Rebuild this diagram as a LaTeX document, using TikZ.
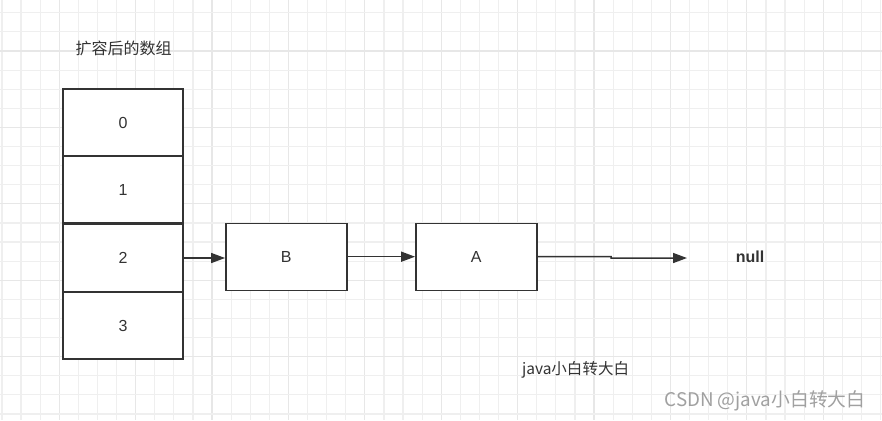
\documentclass[tikz,border=0pt]{standalone}
\usepackage{fontspec}
\setmainfont{Liberation Sans}
\newfontfamily\cjk{Noto Sans CJK SC}
\usetikzlibrary{arrows.meta}
\definecolor{gridminor}{HTML}{EFEFEF}
\definecolor{gridmajor}{HTML}{E7E7E7}
\definecolor{stroke}{HTML}{333333}
\definecolor{txt}{HTML}{333333}
\definecolor{wm}{HTML}{A0A0A0}
\tikzset{
  cell/.style={draw=stroke, line width=1.4pt, fill=white, minimum width=120pt, inner sep=0pt, font=\fontsize{16}{18}\selectfont, text=txt},
  link/.style={draw=stroke, line width=1.5pt, -{Triangle[length=14pt,width=10pt]}},
  lbl/.style={inner sep=0pt, text=txt},
}
\begin{document}
\begin{tikzpicture}[x=1pt,y=-1pt]
\useasboundingbox (0,0) rectangle (882,420);
\fill[white] (0,0) rectangle (882,420);
% grid
\foreach \i in {0,...,46}{
  \pgfmathsetmacro{\gx}{1.9+\i*19.1}
  \pgfmathtruncatemacro{\m}{mod(\i,4)}
  \ifnum\m=3 \draw[gridmajor, line width=1.2pt] (\gx,0) -- (\gx,420);
  \else \draw[gridminor, line width=1.2pt] (\gx,0) -- (\gx,420); \fi
}
\foreach \j in {0,...,22}{
  \pgfmathsetmacro{\gy}{12.8+\j*19.1}
  \pgfmathtruncatemacro{\m}{mod(\j,4)}
  \ifnum\m=2 \draw[gridmajor, line width=1.2pt] (0,\gy) -- (882,\gy);
  \else \draw[gridminor, line width=1.2pt] (0,\gy) -- (882,\gy); \fi
}
% title
\node[lbl, font=\cjk\fontsize{16}{18}\selectfont] (title) at (123.5,48) {扩容后的数组};
% array cells
\node[cell, minimum height=67pt] (c0) at (123,122.5) {0};
\node[cell, minimum height=67pt] (c1) at (123,189.5) {1};
\node[cell, minimum height=67pt] (c2) at (123,258) {2};
\node[cell, minimum height=67pt] (c3) at (123,325.5) {3};
% list nodes
\node[cell, minimum width=121pt, minimum height=67pt] (B) at (286.3,256.7) {B};
\node[cell, minimum width=121pt, minimum height=67pt] (A) at (476.3,256.7) {A};
% null
\node[lbl, font=\fontsize{16}{18}\selectfont\bfseries] (null) at (750,257) {null};
% arrows
\draw[link] (c2.east |- 0,258) -- (B.west |- 0,258);
\draw[link] (B.east) -- (A.west);
\coordinate (j1) at (611,256.5);
\coordinate (j2) at (611,258);
\coordinate (nend) at (687,258);
\draw[link] (A.east) -- (j1) -- (j2) -- (nend);
% captions
\node[lbl, font=\cjk\fontsize{15.5}{18}\selectfont] (cap) at (575.5,370) {java小白转大白};
\node[lbl, font=\cjk\fontsize{18.8}{20}\selectfont, text=wm] (wmk) at (765,401) {CSDN @java小白转大白};
\end{tikzpicture}
\end{document}
